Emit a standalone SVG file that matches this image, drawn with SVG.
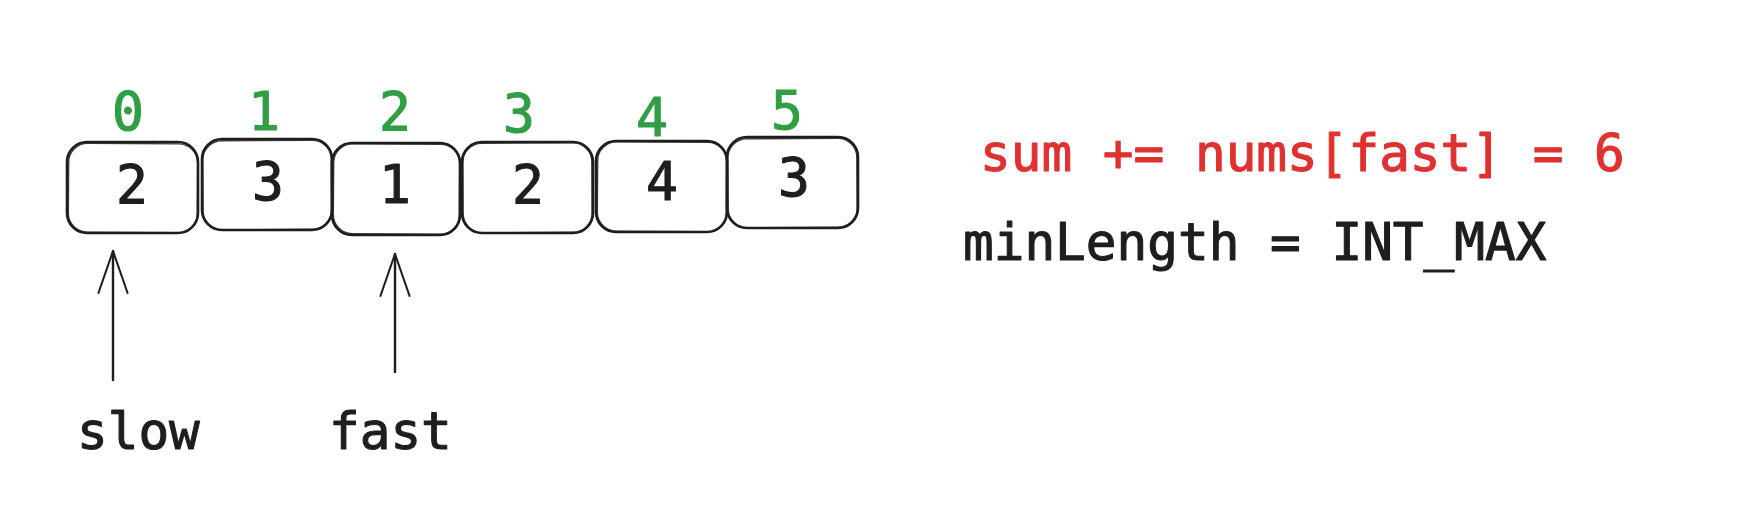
<svg xmlns="http://www.w3.org/2000/svg" width="1748" height="522" viewBox="0 0 1748 522">
<style>
.box{fill:none;stroke:#1e1e1e;stroke-width:2.6;stroke-linejoin:round}
.box2{fill:none;stroke:#1e1e1e;stroke-width:1.4;opacity:0.85}
.t{font-family:"DejaVu Sans Mono","Liberation Mono",monospace;font-size:51px;stroke-width:1.1;stroke-linejoin:round}
.d{font-size:53px}
.num{fill:#1e1e1e;stroke:#1e1e1e;text-anchor:middle}
.idx{fill:#2f9e44;stroke:#2f9e44;text-anchor:middle}
.lbl{fill:#1e1e1e;stroke:#1e1e1e}
.red{fill:#e03131;stroke:#e03131}
.conn{stroke:#1e1e1e;stroke-width:2.4;fill:none;stroke-linecap:round}
</style>
<defs>
<marker id="ah" markerUnits="userSpaceOnUse" markerWidth="60" markerHeight="60" refX="0" refY="0" orient="auto" viewBox="-60 -30 70 60" style="overflow:visible">
<path d="M-49,-17 L0,0 L-49,17" fill="none" stroke="#1e1e1e" stroke-width="2.4" stroke-linecap="round" stroke-linejoin="round"/>
</marker>
</defs>
<rect width="1748" height="522" fill="#ffffff"/>

<g id="node0">
<rect class="box" x="67" y="142" width="131" height="91" rx="20"/>
<rect class="box2" x="68.5" y="143.5" width="129" height="89" rx="19" transform="rotate(0.4 132 188)"/>
<text class="t d idx" x="128" y="130">0</text>
<text class="t d num" x="132" y="203">2</text>
</g>
<g id="node1">
<rect class="box" x="202" y="139" width="130" height="91" rx="20"/>
<rect class="box2" x="203" y="140.5" width="128.5" height="89" rx="19" transform="rotate(-0.4 267 185)"/>
<text class="t d idx" x="264" y="130">1</text>
<text class="t d num" x="268" y="200">3</text>
</g>
<g id="node2">
<rect class="box" x="332" y="143" width="128" height="92" rx="20"/>
<rect class="box2" x="333.5" y="144" width="126" height="90" rx="19" transform="rotate(0.4 396 189)"/>
<text class="t d idx" x="395" y="130">2</text>
<text class="t d num" x="395" y="203">1</text>
</g>
<g id="node3">
<rect class="box" x="462" y="142" width="131" height="91" rx="20"/>
<rect class="box2" x="463" y="143" width="129" height="89.5" rx="19" transform="rotate(-0.3 527 188)"/>
<text class="t d idx" x="519" y="132">3</text>
<text class="t d num" x="528" y="203">2</text>
</g>
<g id="node4">
<rect class="box" x="596" y="141" width="131" height="91" rx="20"/>
<rect class="box2" x="597.5" y="142" width="129" height="89.5" rx="19" transform="rotate(0.4 661 186)"/>
<text class="t d idx" x="652" y="136">4</text>
<text class="t d num" x="662" y="200">4</text>
</g>
<g id="node5">
<rect class="box" x="727" y="137" width="131" height="91" rx="20"/>
<rect class="box2" x="728" y="138.5" width="129" height="89" rx="19" transform="rotate(-0.4 792 182)"/>
<text class="t d idx" x="787" y="129">5</text>
<text class="t d num" x="794" y="196">3</text>
</g>

<g id="label-slow"><text class="t lbl" x="77" y="449">slow</text></g>
<g id="label-fast"><text class="t lbl" x="329" y="449">fast</text></g>
<g id="label-sum"><text class="t red" x="980" y="171">sum += nums[fast] = 6</text></g>
<g id="label-min"><text class="t lbl" x="963" y="260">minLength = INT_MAX</text></g>

<g id="connectors">
<path class="conn" d="M113,380 L113,251" marker-end="url(#ah)"/>
<path class="conn" d="M395,372 L395,254" marker-end="url(#ah)"/>
</g>
</svg>
